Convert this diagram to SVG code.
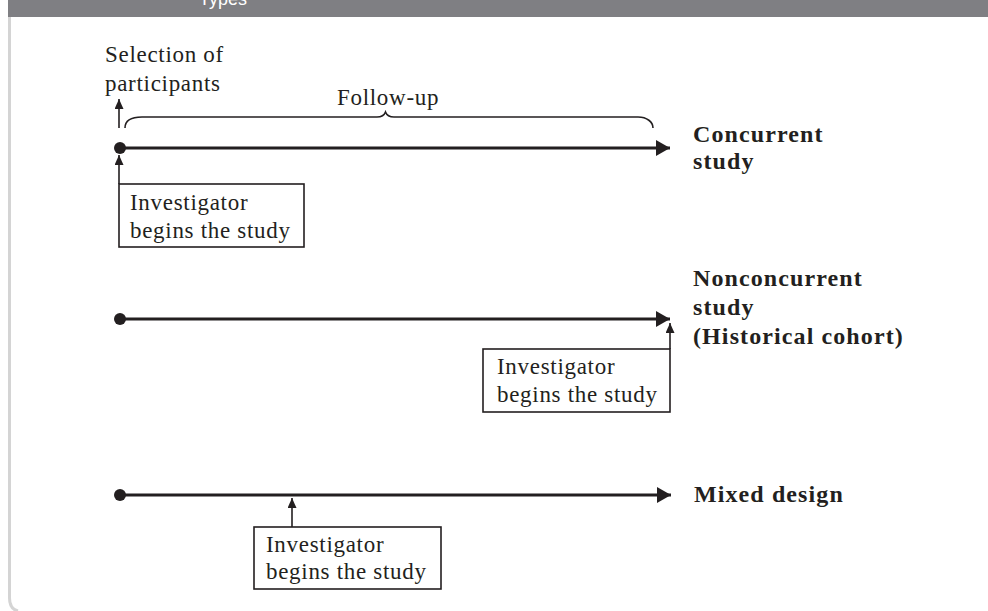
<svg xmlns="http://www.w3.org/2000/svg" width="988" height="611" viewBox="0 0 988 611">
  <defs>
    <style>
      .lbl { font-family: "Liberation Serif", "Times New Roman", serif; font-size: 23px; letter-spacing: 0.7px; fill: #231f20; }
      .ttl { font-family: "Liberation Serif", "Times New Roman", serif; font-size: 24px; font-weight: bold; letter-spacing: 1.1px; fill: #231f20; }
      .axis { stroke: #231f20; stroke-width: 3; fill: none; }
      .thin { stroke: #231f20; stroke-width: 1.6; fill: none; }
      .box { stroke: #231f20; stroke-width: 1.6; fill: #ffffff; }
      .dot { fill: #231f20; }
    </style>
    <marker id="headBig" markerUnits="userSpaceOnUse" markerWidth="15" markerHeight="17" refX="14" refY="8" orient="auto">
      <path d="M0,0 L14,8 L0,16 z" fill="#231f20"/>
    </marker>
    <marker id="headSmall" markerUnits="userSpaceOnUse" markerWidth="11" markerHeight="10" refX="10" refY="4.5" orient="auto">
      <path d="M0,0 L10,4.5 L0,9 z" fill="#231f20"/>
    </marker>
  </defs>

  <rect width="988" height="611" fill="#ffffff"/>

  <!-- header band (title runs off the top edge) and panel frame -->
  <rect x="8" y="0" width="980" height="17" fill="#7f7f83"/>
  <text x="199" y="5" font-family="Liberation Sans, Arial, sans-serif" font-size="18" fill="#ffffff">Types</text>
  <path d="M9.5,17 V598 Q9.5,609 18,611" stroke="#d4d4d4" stroke-width="3" fill="none"/>

  <!-- connectors -->
  <g id="connectors">
    <line class="axis" x1="120" y1="148" x2="670" y2="148" marker-end="url(#headBig)"/>
    <line class="axis" x1="120" y1="319" x2="670" y2="319" marker-end="url(#headBig)"/>
    <line class="axis" x1="120" y1="495" x2="671" y2="495" marker-end="url(#headBig)"/>
    <line class="thin" x1="119" y1="128" x2="119" y2="99" marker-end="url(#headSmall)"/>
    <line class="thin" x1="119" y1="184" x2="119" y2="155" marker-end="url(#headSmall)"/>
    <line class="thin" x1="670" y1="349" x2="670" y2="323" marker-end="url(#headSmall)"/>
    <line class="thin" x1="292" y1="527" x2="292" y2="498" marker-end="url(#headSmall)"/>
    <path class="thin" d="M125,128 C125,121 131,117 142,117 H377 C381,117 384,116 385.5,112 C387,116 390,117 394,117 H638 C647,117 653,122 653,128"/>
  </g>

  <!-- concurrent study -->
  <g id="concurrent">
    <circle class="dot" cx="120" cy="148" r="6"/>
    <text class="lbl" x="105" y="62">Selection of</text>
    <text class="lbl" x="105" y="91">participants</text>
    <text class="lbl" x="337" y="105">Follow-up</text>
    <rect class="box" x="119" y="184" width="185" height="63"/>
    <text class="lbl" x="130" y="210">Investigator</text>
    <text class="lbl" x="130" y="238">begins the study</text>
    <text class="ttl" x="693" y="142">Concurrent</text>
    <text class="ttl" x="693" y="169">study</text>
  </g>

  <!-- nonconcurrent study -->
  <g id="nonconcurrent">
    <circle class="dot" cx="120" cy="319" r="6"/>
    <rect class="box" x="483" y="349" width="187" height="63"/>
    <text class="lbl" x="497" y="374">Investigator</text>
    <text class="lbl" x="497" y="402">begins the study</text>
    <text class="ttl" x="693" y="286">Nonconcurrent</text>
    <text class="ttl" x="693" y="315">study</text>
    <text class="ttl" x="693" y="344">(Historical cohort)</text>
  </g>

  <!-- mixed design -->
  <g id="mixed">
    <circle class="dot" cx="120" cy="495" r="6"/>
    <rect class="box" x="254" y="527" width="187" height="62"/>
    <text class="lbl" x="266" y="552">Investigator</text>
    <text class="lbl" x="266" y="579">begins the study</text>
    <text class="ttl" x="694" y="502">Mixed design</text>
  </g>
</svg>
